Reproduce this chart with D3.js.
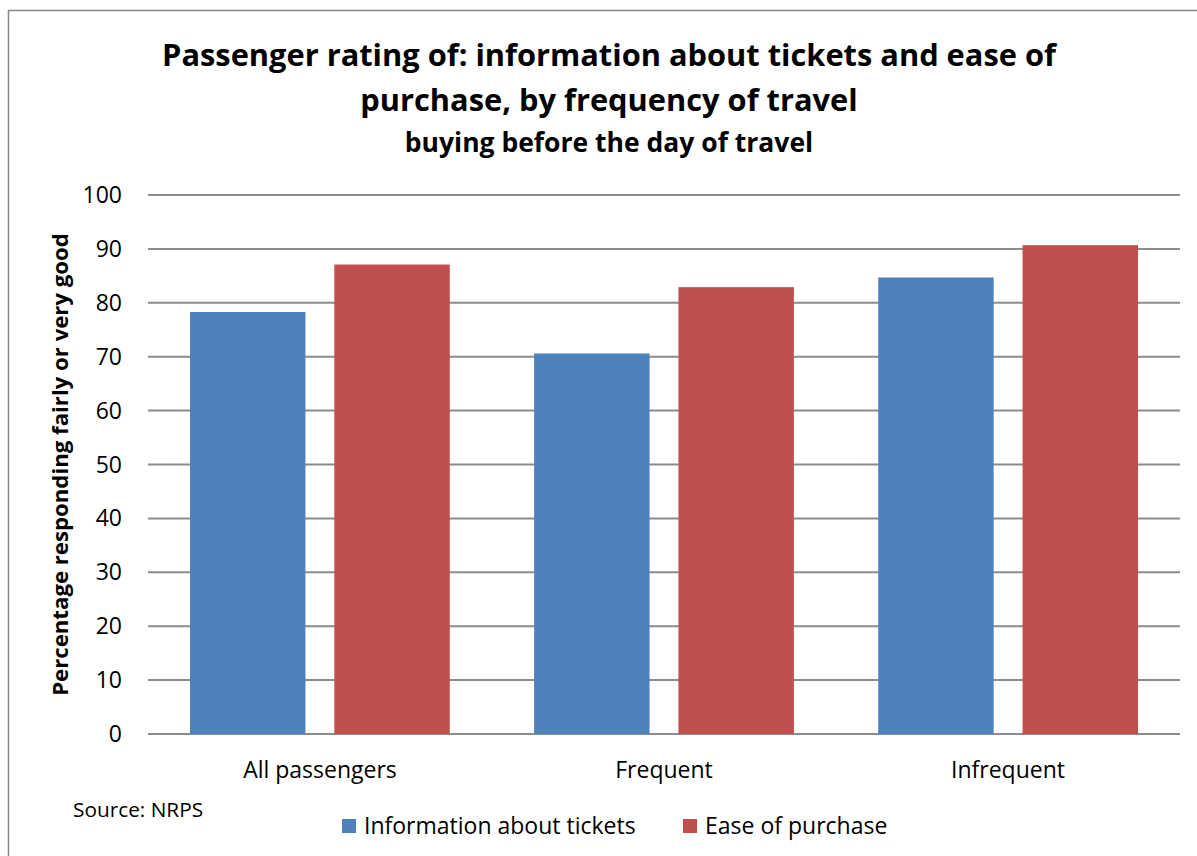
<!DOCTYPE html>
<html>
<head>
<meta charset="utf-8">
<script src="https://cdn.jsdelivr.net/npm/d3@7"></script>
<style>
  body { margin: 0; background: #fff; }
  text { font-family: "Open Sans", sans-serif; fill: #000; }
</style>
</head>
<body>
<div id="chart"></div>
<script>
var width = 1197,
    height = 856;

var categories = ['All passengers', 'Frequent', 'Infrequent'];
var seriesNames = ['Information about tickets', 'Ease of purchase'];
var infoTickets = [78.3, 70.6, 84.7];
var easePurchase = [87.1, 82.9, 90.7];
var yTicks = [0, 10, 20, 30, 40, 50, 60, 70, 80, 90, 100];
var colors = ['#4f81bd', '#c0504d'];

var margin = {top: 195, right: 17, bottom: 122, left: 148};

var svg = d3.select('#chart')
    .append('svg')
    .attr('width', width)
    .attr('height', height);

// outer border
svg.append('rect')
    .attr('x', 8.5)
    .attr('y', 10.5)
    .attr('width', width)
    .attr('height', height)
    .attr('fill', 'none')
    .attr('stroke', '#868686')
    .attr('stroke-width', 1.5);

var x0 = d3.scaleBand()
    .domain(categories)
    .range([margin.left, width - margin.right])
    .paddingInner(0.245)
    .paddingOuter(0.122);

var x1 = d3.scaleBand()
    .domain(seriesNames)
    .range([0, x0.bandwidth()])
    .paddingInner(0.2);

var y = d3.scaleLinear()
    .domain([0, 100])
    .range([height - margin.bottom, margin.top]);

// band scale for the category labels (full width slots)
var xCat = d3.scaleBand()
    .domain(categories)
    .range([margin.left, width - margin.right]);

var g = svg.append('g');

// gridlines
g.selectAll('line.grid')
    .data(yTicks)
    .enter()
    .append('line')
    .attr('class', 'grid')
    .attr('x1', margin.left)
    .attr('x2', width - margin.right)
    .attr('y1', d => y(d))
    .attr('y2', d => y(d))
    .attr('stroke', '#8c8c8c')
    .attr('stroke-width', 2);

// y tick labels
g.selectAll('text.ytick')
    .data(yTicks)
    .enter()
    .append('text')
    .attr('class', 'ytick')
    .attr('x', 122)
    .attr('y', d => y(d))
    .attr('dy', '0.35em')
    .attr('text-anchor', 'end')
    .style('font-size', '23px')
    .text(d => d);

// bars
var rows = categories.map((c, i) => ({
    cat: c,
    vals: [
        {name: seriesNames[0], v: infoTickets[i]},
        {name: seriesNames[1], v: easePurchase[i]}
    ]
}));

var groups = g.selectAll('g.cat')
    .data(rows)
    .enter()
    .append('g')
    .attr('class', 'cat')
    .attr('transform', d => 'translate(' + x0(d.cat) + ',0)');

groups.selectAll('rect')
    .data(d => d.vals)
    .enter()
    .append('rect')
    .attr('x', d => x1(d.name))
    .attr('width', x1.bandwidth())
    .attr('y', d => y(d.v))
    .attr('height', d => y(0) - y(d.v))
    .attr('fill', (d, i) => colors[i]);

// x category labels
g.selectAll('text.xcat')
    .data(categories)
    .enter()
    .append('text')
    .attr('class', 'xcat')
    .attr('x', d => xCat(d) + xCat.bandwidth() / 2)
    .attr('y', 778)
    .attr('text-anchor', 'middle')
    .style('font-size', '23px')
    .text(d => d);

// titles
svg.append('text')
    .attr('x', 609)
    .attr('y', 66)
    .attr('text-anchor', 'middle')
    .style('font-size', '30.8px')
    .style('font-weight', 'bold')
    .text('Passenger rating of: information about tickets and ease of');

svg.append('text')
    .attr('x', 609)
    .attr('y', 111)
    .attr('text-anchor', 'middle')
    .style('font-size', '30.8px')
    .style('font-weight', 'bold')
    .text('purchase, by frequency of travel');

svg.append('text')
    .attr('x', 609)
    .attr('y', 152)
    .attr('text-anchor', 'middle')
    .style('font-size', '26.5px')
    .style('font-weight', 'bold')
    .text('buying before the day of travel');

// y axis title
svg.append('text')
    .attr('transform', 'translate(68,' + ((y(0) + y(100)) / 2) + ')rotate(-90)')
    .attr('text-anchor', 'middle')
    .style('font-size', '22.2px')
    .style('font-weight', 'bold')
    .text('Percentage responding fairly or very good');

// source
svg.append('text')
    .attr('x', 73)
    .attr('y', 817)
    .style('font-size', '20.8px')
    .text('Source: NRPS');

// legend
var legendX = [342, 683];
var legend = svg.selectAll('g.legend')
    .data(seriesNames)
    .enter()
    .append('g')
    .attr('class', 'legend')
    .attr('transform', (d, i) => 'translate(' + legendX[i] + ',819)');

legend.append('rect')
    .attr('width', 14)
    .attr('height', 14)
    .attr('fill', (d, i) => colors[i]);

legend.append('text')
    .attr('x', 22)
    .attr('y', 7)
    .attr('dy', '0.35em')
    .style('font-size', '23px')
    .text(d => d);
</script>
</body>
</html>
